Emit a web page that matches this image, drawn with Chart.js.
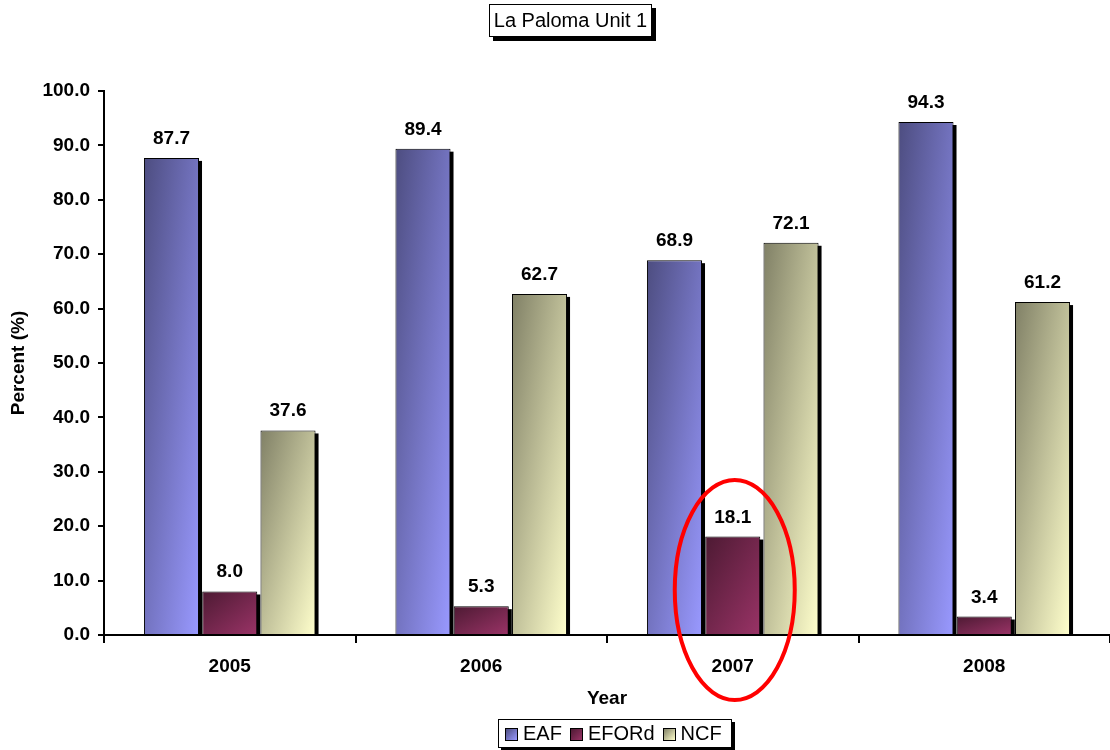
<!DOCTYPE html>
<html lang="en">

<head>
  <meta charset="UTF-8">
  <title>La Paloma Unit 1</title>
  <script src="https://cdn.jsdelivr.net/npm/chart.js"></script>
  <style>
    body { margin: 0; background: #fff; font-family: Arial, "Liberation Sans", sans-serif; }
    #wrap { position: relative; width: 1110px; height: 750px; }
    #chartTitle {
      position: absolute; left: 489px; top: 4px; width: 161px; height: 31px;
      border: 1px solid #000; box-shadow: 4px 4px 0 #000; background: #fff;
      font-size: 20px; line-height: 31px; text-align: center; color: #000;
    }
    #chartLegend {
      position: absolute; left: 498px; top: 719px; width: 232px; height: 27px;
      border: 1px solid #000; box-shadow: 3px 3px 0 #000; background: #fff;
      font-size: 20px; line-height: 27px; color: #000; white-space: nowrap;
    }
  </style>
</head>

<body>
  <div id="wrap">
    <canvas id="paloma" width="1110" height="750"></canvas>
    <div id="chartTitle">La Paloma Unit 1</div>
    <div id="chartLegend"></div>
  </div>
  <script>
    // values
    const years = ['2005', '2006', '2007', '2008'];
    const eaf = [87.7, 89.4, 68.9, 94.3];
    const eford = [8.0, 5.3, 18.1, 3.4];
    const ncf = [37.6, 62.7, 72.1, 61.2];
    const seriesNames = ['EAF', 'EFORd', 'NCF'];
    const yTicks = [0, 10, 20, 30, 40, 50, 60, 70, 80, 90, 100];

    // dark -> light gradient pairs (Excel style shading)
    const shades = [
      ['#4d4d80', '#9999ff'],
      ['#4d1a33', '#993366'],
      ['#808066', '#ffffcc'],
    ];

    const font = 'Arial, "Liberation Sans", sans-serif';

    // legend (html, boxed like the original)
    const legendBox = document.getElementById('chartLegend');
    seriesNames.forEach((name, i) => {
      const item = document.createElement('span');
      item.style.display = 'inline-block';
      item.style.marginLeft = i === 0 ? '6px' : '8px';
      const sw = document.createElement('span');
      sw.style.display = 'inline-block';
      sw.style.width = '11px';
      sw.style.height = '11px';
      sw.style.border = '1px solid #000';
      sw.style.background = `linear-gradient(135deg, ${shades[i][0]}, ${shades[i][1]})`;
      sw.style.marginRight = '5px';
      sw.style.verticalAlign = '-1px';
      item.appendChild(sw);
      item.appendChild(document.createTextNode(name));
      legendBox.appendChild(item);
    });

    // diagonal gradient mapped onto the bar rectangle
    const barGradient = (ctx, el, pair) => {
      const left = el.x - el.width / 2;
      const top = Math.min(el.y, el.base);
      const w = el.width;
      const h = Math.max(Math.abs(el.base - el.y), 1);
      const a = 1 / (2 * w), b = 1 / (2 * h);
      const n = a * a + b * b;
      const g = ctx.createLinearGradient(left, top, left + a / n, top + b / n);
      g.addColorStop(0, pair[0]);
      g.addColorStop(1, pair[1]);
      return g;
    };

    const fillFor = (i) => (c) => {
      const el = c.element;
      if (!el || el.width === undefined || isNaN(el.width)) return shades[i][1];
      return barGradient(c.chart.ctx, el, shades[i]);
    };

    // shadows behind the bars
    const barShadow = {
      id: 'barShadow',
      beforeDatasetsDraw(chart) {
        const { ctx } = chart;
        ctx.save();
        ctx.fillStyle = '#000';
        chart.data.datasets.forEach((ds, i) => {
          chart.getDatasetMeta(i).data.forEach(el => {
            const h = el.base - el.y;
            if (h <= 3) return;
            ctx.fillRect(el.x - el.width / 2 + 3, el.y + 3, el.width, h - 3);
          });
        });
        ctx.restore();
      },
    };

    // value labels above the bars
    const valueLabels = {
      id: 'valueLabels',
      afterDatasetsDraw(chart) {
        const { ctx } = chart;
        ctx.save();
        ctx.font = `bold 19px ${font}`;
        ctx.fillStyle = '#000';
        ctx.textAlign = 'center';
        ctx.textBaseline = 'alphabetic';
        chart.data.datasets.forEach((ds, i) => {
          chart.getDatasetMeta(i).data.forEach((el, j) => {
            ctx.fillText(ds.data[j].toFixed(1), el.x, el.y - 14);
          });
        });
        ctx.restore();
      },
    };

    // red ring around the 2007 EFORd bar
    const highlight = {
      id: 'highlight',
      afterDraw(chart) {
        const el = chart.getDatasetMeta(1).data[2];
        const base = chart.scales.y.getPixelForValue(0);
        const { ctx } = chart;
        ctx.save();
        ctx.strokeStyle = '#ff0000';
        ctx.lineWidth = 4;
        ctx.beginPath();
        ctx.ellipse(el.x + 2, base - 45, 60, 110, 0, 0, Math.PI * 2);
        ctx.stroke();
        ctx.restore();
      },
    };

    const chart = new Chart(document.getElementById('paloma'), {
      type: 'bar',
      data: {
        labels: years,
        datasets: [eaf, eford, ncf].map((vals, i) => ({
          label: seriesNames[i],
          data: vals,
          backgroundColor: fillFor(i),
          borderColor: '#000',
          borderWidth: 1,
          categoryPercentage: 0.695,
          barPercentage: 0.945,
        })),
      },
      options: {
        responsive: false,
        animation: false,
        layout: { padding: { top: 91, right: 0, bottom: 0, left: 0 } },
        plugins: {
          legend: { display: false },
          title: { display: false },
          tooltip: { enabled: false },
        },
        scales: {
          x: {
            afterFit: (s) => { s.height = 115; },
            border: { color: '#000', width: 2 },
            grid: { offset: true, drawOnChartArea: false, color: '#000', lineWidth: 2, tickLength: 8 },
            ticks: { color: '#000', font: { family: font, size: 19, weight: 'bold' }, padding: 12 },
            title: {
              display: true, text: 'Year', color: '#000',
              font: { family: font, size: 19, weight: 'bold' },
              padding: { top: 40, bottom: 40 },
            },
          },
          y: {
            min: 0,
            max: 100,
            afterFit: (s) => { s.width = 104; },
            afterBuildTicks: (s) => { s.ticks = yTicks.map(v => ({ value: v })); },
            border: { color: '#000', width: 2 },
            grid: { drawOnChartArea: false, color: '#000', lineWidth: 2, tickLength: 6 },
            ticks: {
              color: '#000', padding: 8,
              font: { family: font, size: 19, weight: 'bold' },
              callback: (v) => Number(v).toFixed(1),
            },
            title: {
              display: true, text: 'Percent (%)', color: '#000',
              font: { family: font, size: 19, weight: 'bold' },
              padding: { top: 7, bottom: 7 },
            },
          },
        },
      },
      plugins: [barShadow, valueLabels, highlight],
    });

    // second pass so the gradients can use the bar geometry
    chart.update('none');
  </script>
</body>

</html>
